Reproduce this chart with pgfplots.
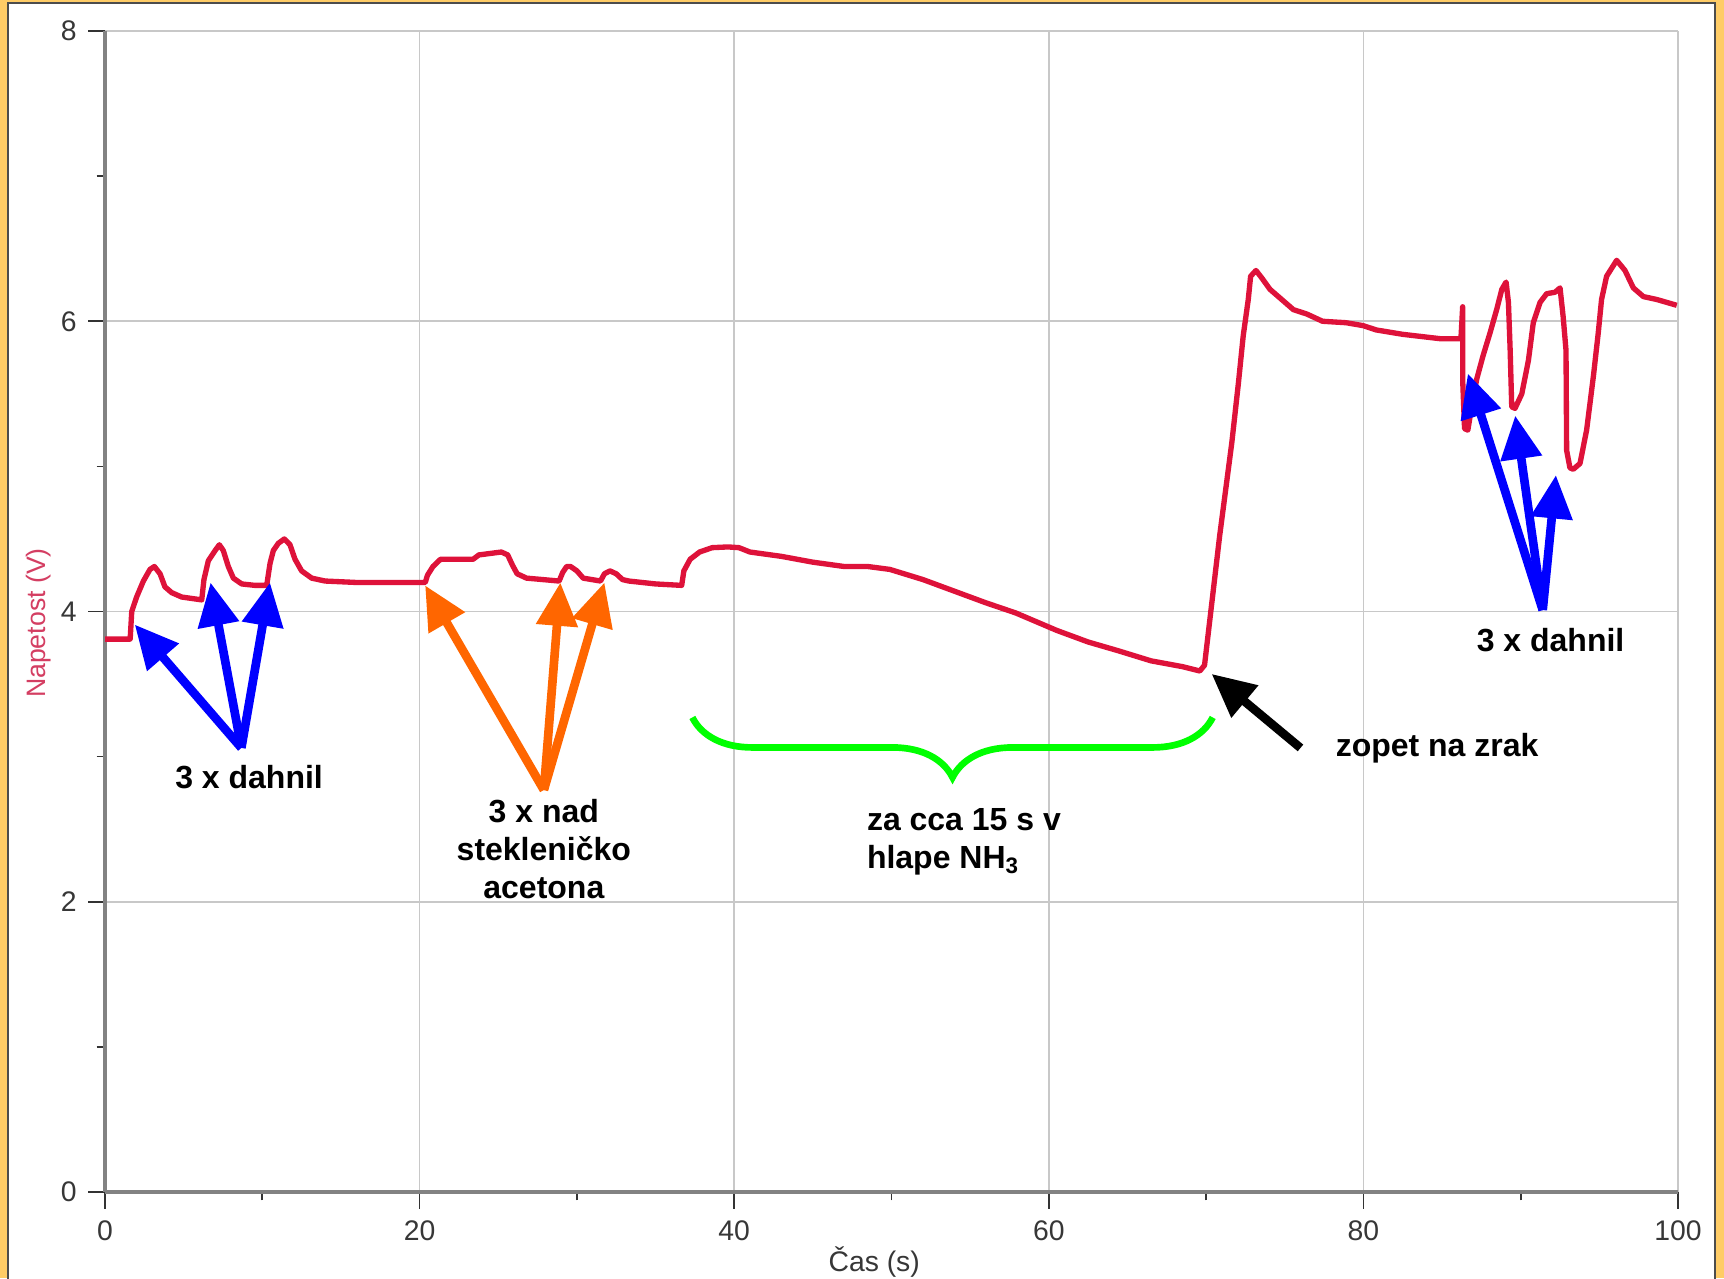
\documentclass[border=0pt]{standalone}
\usepackage{fontspec}
\setmainfont{Liberation Sans}
\usepackage{pgfplots}
\pgfplotsset{compat=1.18}
\usetikzlibrary{arrows.meta,decorations.pathreplacing}
\definecolor{frameor}{RGB}{255,204,102}
\definecolor{curvec}{RGB}{222,18,58}
\definecolor{ylab}{RGB}{212,62,98}
\definecolor{gridc}{RGB}{200,200,200}
\definecolor{axc}{RGB}{130,130,130}
\definecolor{ticklab}{RGB}{55,55,55}
\definecolor{arrblue}{RGB}{0,0,255}
\definecolor{arrorange}{RGB}{255,102,0}
\definecolor{bracegreen}{RGB}{0,255,0}
\newcommand{\annot}{\fontsize{9.6}{11.4}\selectfont\bfseries}
\begin{document}
\begin{tikzpicture}
\useasboundingbox (0,0) rectangle (517.2pt,383.4pt);
\fill[frameor] (0,0) rectangle (517.2pt,383.4pt);
\fill[white] (2.4pt,0) rectangle (514.5pt,382.5pt);
\draw[black!70, line width=0.6pt] (2.4pt,-1pt) -- (2.4pt,382.5pt) -- (514.5pt,382.5pt) -- (514.5pt,-1pt);
\begin{axis}[
  at={(31.5pt,25.8pt)}, anchor=south west,
  scale only axis, width=471.9pt, height=348.3pt,
  xmin=0, xmax=100, ymin=0, ymax=8,
  axis x line*=bottom, axis y line*=left,
  axis line style={axc, line width=1pt, -},
  xtick={0,20,...,100}, ytick={0,2,...,8},
  minor xtick={10,30,...,90}, minor ytick={1,3,5,7},
  tick align=outside,
  major tick length=5pt, minor tick length=2.5pt,
  every tick/.style={black!80, line width=0.5pt},
  grid=major,
  major grid style={gridc, line width=0.5pt},
  /pgf/number format/assume math mode=true,
  tick label style={font=\fontsize{8.5}{10}\selectfont, color=ticklab},
  xlabel={Čas (s)},
  ylabel={Napetost (V)},
  xlabel style={at={(axis description cs:0.489,-0.0603)}, anchor=center, font=\fontsize{8.5}{10}\selectfont, color=ticklab},
  ylabel style={at={(axis description cs:-0.0423,0.49)}, anchor=center, font=\fontsize{8}{10}\selectfont, color=ylab},
  clip=false,
]
\addplot[curvec, line width=1.6pt, line join=round, no markers] coordinates {
(0,3.81) (1.6,3.81) (1.7,4.00) (2.01,4.10) (2.44,4.21) (2.86,4.29) (3.14,4.31) (3.5,4.26) (3.81,4.17) (4.24,4.13) (4.87,4.10) (6.15,4.08) (6.29,4.22) (6.57,4.35) (7.0,4.42) (7.27,4.46) (7.52,4.42) (7.84,4.31) (8.16,4.23) (8.69,4.19) (9.54,4.18) (10.28,4.18) (10.49,4.33) (10.7,4.42) (11.02,4.47) (11.4,4.50) (11.76,4.46) (12.08,4.36) (12.5,4.28) (13.14,4.23) (13.99,4.21) (16,4.20) (18,4.20) (20.36,4.20)
(20.5,4.25) (20.85,4.31) (21.33,4.36) (23.4,4.36) (23.77,4.39) (25.2,4.41) (25.6,4.39) (25.9,4.32) (26.2,4.26) (26.8,4.23) (28.87,4.21) (29.1,4.27) (29.35,4.31) (29.6,4.31) (30.0,4.28) (30.4,4.23) (31.5,4.21) (31.75,4.26) (32.1,4.28) (32.5,4.26) (32.9,4.22) (33.3,4.21) (35,4.19) (36.66,4.18) (36.8,4.28) (37.2,4.36) (37.8,4.41) (38.6,4.44) (39.6,4.445) (40.3,4.44) (41,4.41) (43,4.38) (45,4.34) (47,4.31) (48.5,4.31) (49.9,4.29) (52,4.22) (54,4.14) (56,4.06) (57.9,3.99) (60.5,3.87) (62.5,3.79) (64.4,3.73) (66.5,3.66) (68.5,3.62) (69.6,3.59)
(69.9,3.63) (70.86,4.52) (71.63,5.16) (72.05,5.57) (72.36,5.90) (72.68,6.15) (72.83,6.31) (73.17,6.35) (73.53,6.30) (74.06,6.22) (74.7,6.16) (75.55,6.08) (76.4,6.05) (77.4,6.00) (78.9,5.99) (79.98,5.97) (80.82,5.94) (82.5,5.91) (84.87,5.88) (86.2,5.88)
(86.31,6.10) (86.32,5.57) (86.43,5.26) (86.64,5.25) (86.88,5.41) (87.2,5.60) (87.6,5.76) (88.05,5.92) (88.47,6.08) (88.8,6.22) (89.07,6.27) (89.22,6.13) (89.33,5.80) (89.43,5.41) (89.64,5.40) (90.07,5.50) (90.49,5.73) (90.8,5.99) (91.23,6.13) (91.65,6.19) (92.18,6.20) (92.5,6.23) (92.7,6.03) (92.88,5.80) (92.92,5.11) (93.13,4.99) (93.34,4.98) (93.77,5.02) (94.19,5.25) (94.62,5.62) (94.93,5.92) (95.14,6.15) (95.46,6.31) (96.1,6.42) (96.63,6.35) (97.16,6.23) (97.8,6.17) (98.65,6.15) (99.92,6.11)
};
% left blue arrows
\draw[arrblue, line width=2.6pt, -{Triangle[length=13pt,width=12pt]}] (axis cs:8.67,3.06) -- (axis cs:1.89,3.91);
\draw[arrblue, line width=2.6pt, -{Triangle[length=13pt,width=12pt]}] (axis cs:8.67,3.06) -- (axis cs:6.71,4.20);
\draw[arrblue, line width=2.6pt, -{Triangle[length=13pt,width=12pt]}] (axis cs:8.67,3.06) -- (axis cs:10.49,4.20);
\node[font=\annot, inner sep=0pt] at (axis cs:9.16,2.86) {3 x dahnil};
% orange arrows
\draw[arrorange, line width=2.6pt, -{Triangle[length=13pt,width=12pt]}] (axis cs:27.9,2.77) -- (axis cs:20.35,4.18);
\draw[arrorange, line width=2.6pt, -{Triangle[length=13pt,width=12pt]}] (axis cs:27.9,2.77) -- (axis cs:28.95,4.20);
\draw[arrorange, line width=2.6pt, -{Triangle[length=13pt,width=12pt]}] (axis cs:27.9,2.77) -- (axis cs:31.75,4.20);
\node[font=\annot, align=center, inner sep=0pt] at (axis cs:27.9,2.36) {3 x nad\\stekleničko\\acetona};
% green brace
\draw[bracegreen, line width=2pt, decorate, decoration={brace, amplitude=18pt, mirror}] (axis cs:37.34,3.27) -- (axis cs:70.42,3.27);
\node[font=\annot, align=left, anchor=west, inner sep=0pt] at (axis cs:48.4,2.41) {za cca 15 s v\\hlape NH\textsubscript{3}};
% black arrow
\draw[black, line width=2.6pt, -{Triangle[length=13pt,width=12pt]}] (axis cs:76.0,3.06) -- (axis cs:70.35,3.57);
\node[font=\annot, anchor=west, inner sep=0pt] at (axis cs:78.2,3.06) {zopet na zrak};
% right blue arrows
\draw[arrblue, line width=2.6pt, -{Triangle[length=13pt,width=12pt]}] (axis cs:91.4,4.01) -- (axis cs:86.64,5.64);
\draw[arrblue, line width=2.6pt, -{Triangle[length=13pt,width=12pt]}] (axis cs:91.4,4.01) -- (axis cs:89.65,5.35);
\draw[arrblue, line width=2.6pt, -{Triangle[length=13pt,width=12pt]}] (axis cs:91.4,4.01) -- (axis cs:92.24,4.94);
\node[font=\annot, inner sep=0pt] at (axis cs:91.9,3.80) {3 x dahnil};
\end{axis}
\end{tikzpicture}
\end{document}
